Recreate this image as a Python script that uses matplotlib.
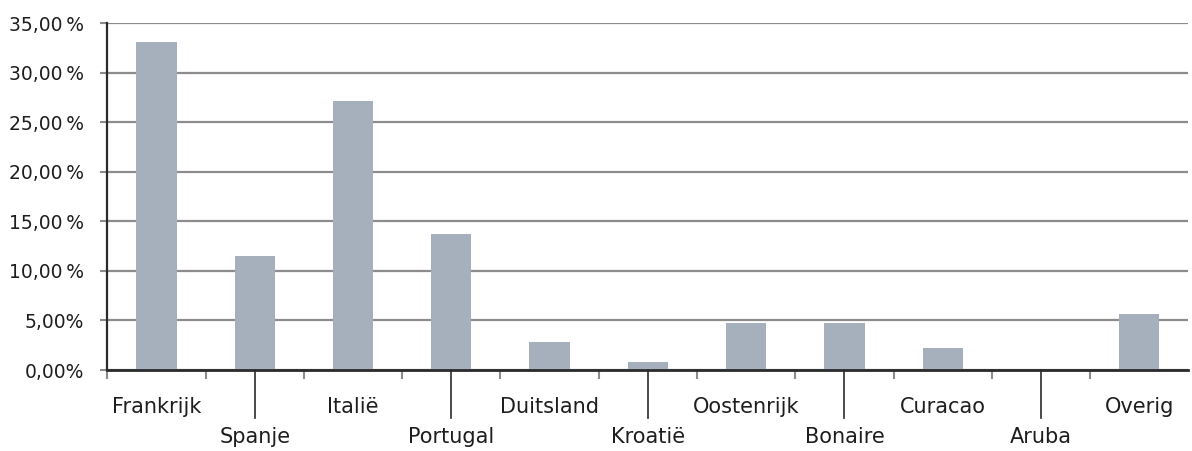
import numpy as np
import matplotlib.pyplot as plt
from matplotlib.ticker import FixedLocator

plt.rcParams['font.family'] = ['DejaVu Sans']

landen = ['Frankrijk', 'Spanje', 'Italië', 'Portugal', 'Duitsland', 'Kroatië',
          'Oostenrijk', 'Bonaire', 'Curacao', 'Aruba', 'Overig']
aandeel = [33.1, 11.5, 27.2, 13.7, 2.8, 0.8, 4.7, 4.7, 2.2, 0.0, 5.65]
y_ticks = [0, 5, 10, 15, 20, 25, 30, 35]
y_labels = ['0,00%', '5,00%', '10,00\u2009%', '15,00\u2009%', '20,00\u2009%',
            '25,00\u2009%', '30,00\u2009%', '35,00\u2009%']

BAR = '#a6b0bd'
GRID = '#8c8c8c'
AXIS = '#2b2b2b'
TXT = '#1e1e1e'

fig = plt.figure(figsize=(11.92, 4.51), dpi=100)
ax = fig.add_axes([0.09, 0.1796, 0.907, 0.7686])

x = np.arange(len(landen))
ax.bar(x, aandeel, width=0.41, color=BAR, zorder=3)

ax.set_xlim(-0.5, len(landen) - 0.5)
ax.set_ylim(0, 35)
ax.set_yticks(y_ticks)
ax.set_yticklabels(y_labels, fontsize=13.5, color=TXT)
ax.yaxis.grid(True, color=GRID, linewidth=1.6, zorder=0)
ax.set_axisbelow(True)

for s in ['top', 'right']:
    ax.spines[s].set_visible(False)
ax.spines['left'].set_color(AXIS)
ax.spines['left'].set_linewidth(1.6)
ax.spines['bottom'].set_color(AXIS)
ax.spines['bottom'].set_linewidth(2)
ax.spines['bottom'].set_zorder(4)

ax.tick_params(axis='y', length=5, width=1.5, color=GRID, pad=12)
ax.set_xticks([])
ax.xaxis.set_minor_locator(FixedLocator(np.arange(-0.5, len(landen) - 1, 1.0)))
ax.tick_params(axis='x', which='minor', length=6.5, width=1.5, color=GRID)

# gestaffelde labels
for i, naam in enumerate(landen):
    if i % 2 == 0:
        ax.text(i, -0.107, naam, transform=ax.get_xaxis_transform(),
                ha='center', va='center', fontsize=15, color=TXT)
    else:
        ax.axvline(i, ymin=-0.138, ymax=0, color=AXIS, linewidth=1.2,
                   clip_on=False, zorder=4)
        ax.text(i, -0.193, naam, transform=ax.get_xaxis_transform(),
                ha='center', va='center', fontsize=15, color=TXT)

fig.savefig('out.png', dpi=100)
